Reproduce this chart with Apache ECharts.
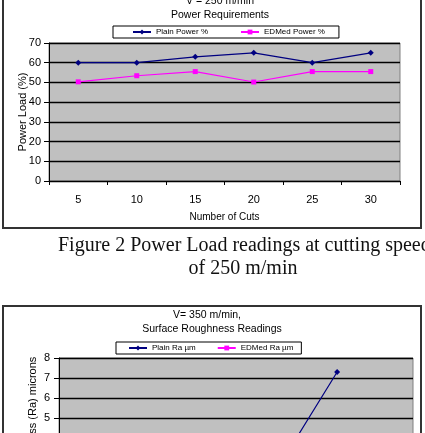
<!DOCTYPE html>
<html><head><meta charset="utf-8">
<script src="https://cdn.jsdelivr.net/npm/echarts@6/dist/echarts.min.js"></script>
<style>html,body{margin:0;padding:0;background:#fff;}#c{width:425px;height:433px;}</style>
</head><body><div id="c"></div>
<script>
// Chart 1: V = 250 m/min, Power Requirements
const cuts1 = ['5', '10', '15', '20', '25', '30'];
const plainPower = [60, 60, 63, 65, 60, 65];
const edmPower = [50.3, 53.4, 55.5, 50.2, 55.5, 55.5];
const powerTicks = [0, 10, 20, 30, 40, 50, 60, 70];
// Chart 2: V = 350 m/min, Surface Roughness (only the top part is visible)
const cuts2 = ['5', '10', '15', '20', '25', '30', '35'];
const plainRa = [2.6, 2.9, 3.0, 3.1, 3.2, 7.3, null];
const edmRa = [2.0, 2.2, 2.4, 2.3, 2.5, 2.6, null];
const raTicks = [0, 1, 2, 3, 4, 5, 6, 7, 8];

const FONT = "'Liberation Sans', Arial, sans-serif";
const SERIF = "'Liberation Serif', 'Times New Roman', serif";
const chart = echarts.init(document.getElementById('c'), null, {renderer: 'canvas'});

function yAxisCommon(ticks, name, gridIndex, nameGap, nameSize, labelSize, margin) {
  return {
    gridIndex: gridIndex, type: 'value', min: ticks[0], max: ticks[ticks.length - 1],
    interval: ticks[1] - ticks[0],
    name: name, nameLocation: 'middle', nameGap: nameGap, nameMoveOverlap: false,
    nameTextStyle: {fontFamily: FONT, fontSize: nameSize, color: '#000'},
    axisLine: {show: true, lineStyle: {color: '#000', width: 1}},
    axisTick: {show: true, length: 5, lineStyle: {color: '#000'}},
    axisLabel: {fontFamily: FONT, fontSize: labelSize, color: '#000', margin: margin},
    splitLine: {show: true, lineStyle: {color: '#000', width: 1.3}}
  };
}
function xAxisCommon(cats, gridIndex, name) {
  return {
    gridIndex: gridIndex, type: 'category', data: cats, boundaryGap: true,
    name: name, nameLocation: 'middle', nameGap: 31, nameMoveOverlap: false,
    nameTextStyle: {fontFamily: FONT, fontSize: 10, color: '#000'},
    axisLine: {show: true, lineStyle: {color: '#000', width: 1}},
    axisTick: {show: true, inside: false, length: 4, alignWithLabel: false, interval: 0, lineStyle: {color: '#000'}},
    axisLabel: {fontFamily: FONT, fontSize: 11, color: '#000', margin: 13, interval: 0},
    splitLine: {show: false}
  };
}

const option = {
  animation: false,
  backgroundColor: '#fff',
  graphic: [
    {type: 'rect', z: -100, shape: {x: 3, y: -10, width: 418, height: 238},
     style: {fill: '#fff', stroke: '#333', lineWidth: 2}},
    {type: 'rect', z: -100, shape: {x: 3, y: 306, width: 418, height: 200},
     style: {fill: '#fff', stroke: '#333', lineWidth: 2}},
    {type: 'text', x: 220, y: 1, style: {text: 'V = 250 m/min', font: '10.5px ' + FONT, fill: '#000', textAlign: 'center', textVerticalAlign: 'middle'}},
    {type: 'text', x: 220, y: 15, style: {text: 'Power Requirements', font: '10.5px ' + FONT, fill: '#000', textAlign: 'center', textVerticalAlign: 'middle'}},
    {type: 'text', x: 207, y: 315, style: {text: 'V= 350 m/min,', font: '10.5px ' + FONT, fill: '#000', textAlign: 'center', textVerticalAlign: 'middle'}},
    {type: 'text', x: 212, y: 329, style: {text: 'Surface Roughness Readings', font: '10.5px ' + FONT, fill: '#000', textAlign: 'center', textVerticalAlign: 'middle'}},
    {type: 'text', x: 58, y: 246, style: {text: 'Figure 2 Power Load readings at cutting speed', font: '20px ' + SERIF, fill: '#111', textAlign: 'left', textVerticalAlign: 'middle'}},
    {type: 'text', x: 243, y: 269, style: {text: 'of 250 m/min', font: '20px ' + SERIF, fill: '#111', textAlign: 'center', textVerticalAlign: 'middle'}}
  ],
  legend: [
    {left: 113, top: 26, orient: 'horizontal', padding: [2, 14, 2, 19], itemGap: 32,
     itemWidth: 18, itemHeight: 6, borderColor: '#000', borderWidth: 1, backgroundColor: '#fff',
     textStyle: {fontFamily: FONT, fontSize: 8, color: '#000'},
     data: ['Plain Power %', 'EDMed Power %']},
    {left: 116, top: 342, orient: 'horizontal', padding: [2, 8, 2, 12], itemGap: 21,
     itemWidth: 18, itemHeight: 6, borderColor: '#000', borderWidth: 1, backgroundColor: '#fff',
     textStyle: {fontFamily: FONT, fontSize: 8, color: '#000'},
     data: ['Plain Ra µm', 'EDMed Ra µm']}
  ],
  grid: [
    {left: 49, right: 25, top: 43, height: 138, show: true, backgroundColor: '#c0c0c0', borderColor: '#808080', borderWidth: 1, outerBoundsMode: 'none', containLabel: false},
    {left: 59, right: 12, top: 358, height: 160, show: true, backgroundColor: '#c0c0c0', borderColor: '#808080', borderWidth: 1, outerBoundsMode: 'none', containLabel: false}
  ],
  xAxis: [xAxisCommon(cuts1, 0, 'Number of Cuts'), xAxisCommon(cuts2, 1, '')],
  yAxis: [
    yAxisCommon(powerTicks, 'Power Load (%)', 0, 21, 11, 11, 8),
    yAxisCommon(raTicks, 'Surface Roughness (Ra) microns', 1, 21, 11, 11, 9)
  ],
  series: [
    {name: 'Plain Power %', type: 'line', xAxisIndex: 0, yAxisIndex: 0, data: plainPower,
     symbol: 'diamond', symbolSize: 6, itemStyle: {color: '#000080'}, lineStyle: {color: '#000080', width: 1.2}},
    {name: 'EDMed Power %', type: 'line', xAxisIndex: 0, yAxisIndex: 0, data: edmPower,
     symbol: 'rect', symbolSize: 5, itemStyle: {color: '#ff00ff'}, lineStyle: {color: '#ff00ff', width: 1.2}},
    {name: 'Plain Ra µm', type: 'line', xAxisIndex: 1, yAxisIndex: 1, data: plainRa,
     symbol: 'diamond', symbolSize: 6, itemStyle: {color: '#000080'}, lineStyle: {color: '#000080', width: 1.2}},
    {name: 'EDMed Ra µm', type: 'line', xAxisIndex: 1, yAxisIndex: 1, data: edmRa,
     symbol: 'rect', symbolSize: 5, itemStyle: {color: '#ff00ff'}, lineStyle: {color: '#ff00ff', width: 1.2}}
  ]
};
chart.setOption(option);
</script></body></html>
